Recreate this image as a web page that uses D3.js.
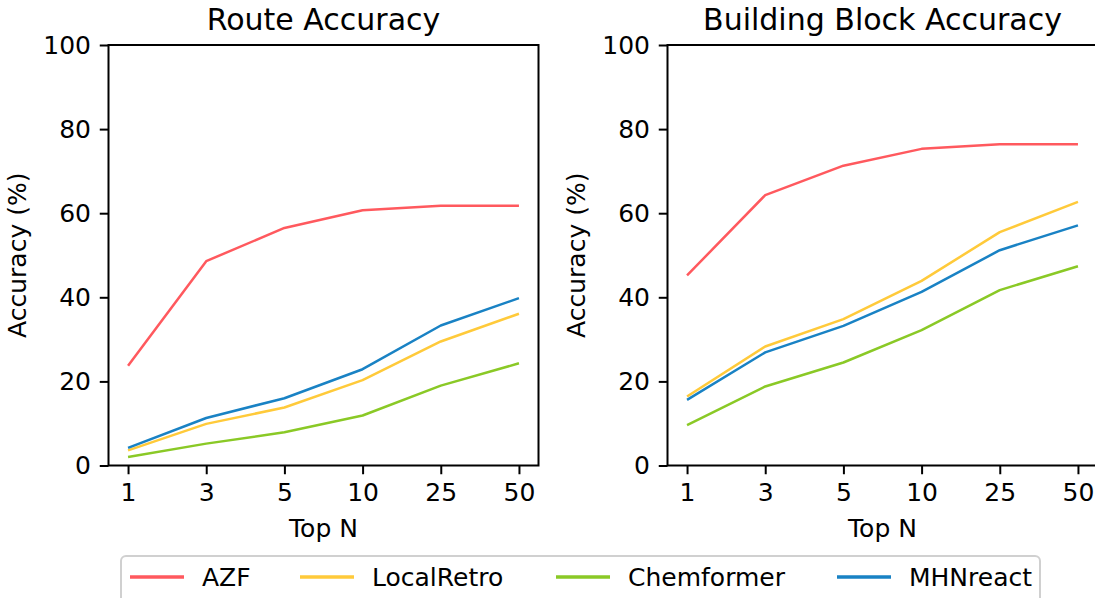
<!DOCTYPE html>
<html><head><meta charset="utf-8">
<script src="https://cdn.jsdelivr.net/npm/d3@7"></script>
<style>body{margin:0;background:#fff}svg{display:block;font-family:"DejaVu Sans",sans-serif}</style>
</head><body><svg id="c" width="1095" height="598"></svg>
<script>
const categories = ["1","3","5","10","25","50"];
const seriesNames = ["AZF","LocalRetro","Chemformer","MHNreact"];
const colors = ["#ff595e","#ffca3a","#8ac926","#1982c4"];
const yTicks = [0,20,40,60,80,100];
const panelTitles = ["Route Accuracy","Building Block Accuracy"];
// Route accuracy
const routeAZF = [23.7,48.6,56.5,60.7,61.8,61.8];
const routeLocalRetro = [3.6,9.9,13.8,20.3,29.5,36.1];
const routeChemformer = [2.0,5.2,7.9,11.9,19.0,24.3];
const routeMHNreact = [4.2,11.3,16.0,22.9,33.3,39.8];
// Building block accuracy
const bbAZF = [45.2,64.3,71.3,75.3,76.4,76.4];
const bbLocalRetro = [16.4,28.3,34.8,43.9,55.5,62.7];
const bbChemformer = [9.6,18.8,24.5,32.2,41.7,47.4];
const bbMHNreact = [15.6,26.9,33.2,41.3,51.2,57.1];

(function(){
const panels = [
  {title: panelTitles[0], data:[routeAZF,routeLocalRetro,routeChemformer,routeMHNreact], left:108.5},
  {title: panelTitles[1], data:[bbAZF,bbLocalRetro,bbChemformer,bbMHNreact], left:667.5}
];
const svg = d3.select("#c");
const W = 430, T = 45, B = 465.5;
const fs = 25, tfs = 30;

panels.forEach(p => {
  const g = svg.append("g");
  const idx = d3.range(categories.length);
  const x = d3.scaleLinear().domain([-0.25, categories.length - 0.75]).range([p.left, p.left + W]);
  const y = d3.scaleLinear().domain([0,100]).range([B, T]);
  const line = d3.line().x((d,i)=>x(i)).y(d=>y(d));
  p.data.forEach((s,k) => {
    g.append("path").datum(s).attr("d", line).attr("fill","none")
      .attr("stroke", colors[k]).attr("stroke-width", 2.5).attr("stroke-linejoin","round");
  });
  g.append("rect").attr("x", p.left).attr("y", T).attr("width", W).attr("height", B-T)
    .attr("fill","none").attr("stroke","#000").attr("stroke-width",2);
  const xa = g.append("g").attr("transform", `translate(0,${B})`)
    .call(d3.axisBottom(x).tickValues(idx).tickFormat(i=>categories[i]).tickSize(8.75).tickPadding(8.5));
  const ya = g.append("g").attr("transform", `translate(${p.left},0)`)
    .call(d3.axisLeft(y).tickValues(yTicks).tickSize(8.75).tickPadding(8.75));
  [xa,ya].forEach(a=>{
    a.select(".domain").remove();
    a.selectAll(".tick line").attr("stroke","#000").attr("stroke-width",2);
    a.selectAll(".tick text").attr("font-size",fs).attr("font-family","DejaVu Sans").attr("fill","#000");
  });
  g.append("text").attr("x", p.left + W/2).attr("y", 30).attr("text-anchor","middle")
    .attr("font-size", tfs).text(p.title);
  g.append("text").attr("x", p.left + W/2).attr("y", 537).attr("text-anchor","middle")
    .attr("font-size", fs).text("Top N");
  g.append("text").attr("transform", `translate(${p.left-82.5},${(T+B)/2}) rotate(-90)`)
    .attr("text-anchor","middle").attr("font-size", fs).text("Accuracy (%)");
});

const lg = svg.append("g");
lg.append("rect").attr("x",121).attr("y",556).attr("width",919).attr("height",56).attr("rx",5)
  .attr("fill","#fff").attr("stroke","#d0d0d0").attr("stroke-width",2);
const legX = [130,300,556,837];
seriesNames.forEach((n,k)=>{
  lg.append("line").attr("x1",legX[k]).attr("x2",legX[k]+54).attr("y1",577).attr("y2",577)
    .attr("stroke",colors[k]).attr("stroke-width",3.5);
  lg.append("text").attr("x",legX[k]+72).attr("y",586).attr("font-size",fs).text(n);
});
})();
</script></body></html>
